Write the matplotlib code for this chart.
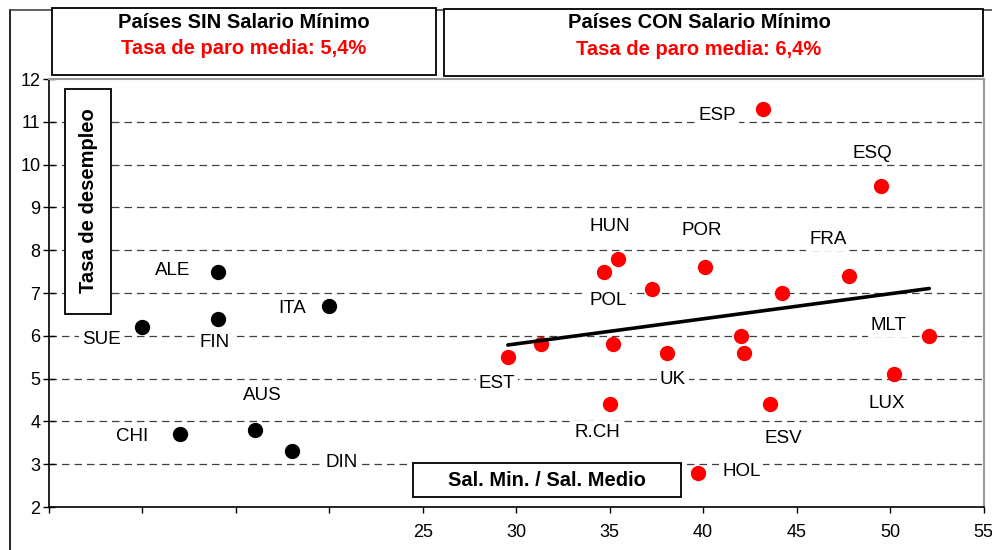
import matplotlib
matplotlib.use("Agg")
import matplotlib.pyplot as plt
from matplotlib.patches import Rectangle
import numpy as np

plt.rcParams['font.family'] = ['Liberation Sans', 'DejaVu Sans']

# countries without minimum wage (black)
sin_names = ['SUE', 'CHI', 'ALE', 'FIN', 'AUS', 'DIN', 'ITA']
sin_x = [10.0, 12.0, 14.05, 14.05, 16.0, 18.0, 20.0]
sin_y = [6.2, 3.7, 7.5, 6.4, 3.8, 3.3, 6.7]

# countries with minimum wage (red)
con_names = ['EST', '', 'R.CH', 'POL', '', 'HUN', '', 'UK', 'HOL', 'POR',
             '', '', 'ESP', 'ESV', '', 'FRA', 'ESQ', 'LUX', 'MLT']
con_x = [29.55, 31.35, 35.0, 34.7, 35.2, 35.45, 37.25, 38.05, 39.75, 40.1,
         42.05, 42.2, 43.2, 43.6, 44.2, 47.8, 49.5, 50.2, 52.1]
con_y = [5.5, 5.8, 4.4, 7.5, 5.8, 7.8, 7.1, 5.6, 2.8, 7.6,
         6.0, 5.6, 11.3, 4.4, 7.0, 7.4, 9.5, 5.1, 6.0]

x_ticks = [5, 10, 15, 20, 25, 30, 35, 40, 45, 50, 55]
x_ticklabels = ['', '', '', '', '25', '30', '35', '40', '45', '50', '55']
y_ticks = [2, 3, 4, 5, 6, 7, 8, 9, 10, 11, 12]

box_sin = ['Países SIN Salario Mínimo', 'Tasa de paro media: 5,4%']
box_con = ['Países CON Salario Mínimo', 'Tasa de paro media: 6,4%']

# label offsets in pixels (right, down) relative to the dot
sin_off = [(-41, 13), (-48, 3), (-45, 0), (-4, 25), (8, -33), (50, 12), (-37, 4)]
con_off = [(-11, 27), (0, 0), (-12, 29), (4, 30), (0, 0), (-8, -31), (0, 0),
           (6, 28), (43, 0), (-3, -36), (0, 0), (0, 0), (-46, 8), (13, 35),
           (0, 0), (-21, -35), (-8, -32), (-7, 30), (-41, -9)]

W, H = 992, 550
fig = plt.figure(figsize=(W / 100, H / 100), dpi=100)


def fx(x):
    return x / W


def fy(y):
    return 1 - y / H


ax = fig.add_axes([fx(49), fy(507), fx(983.5) - fx(49), fy(79) - fy(507)])
ax.set_xlim(5, 55)
ax.set_ylim(2, 12)

ax.set_axisbelow(True)
for yv in y_ticks[1:-1]:
    ax.axhline(yv, color='#404040', lw=0.9, dashes=(6, 4), zorder=0)

ax.plot(sin_x, sin_y, 'o', color='black', ms=10, zorder=3)
ax.plot(con_x, con_y, 'o', color='#FF0000', ms=10, zorder=3)

coef = np.polyfit(con_x, con_y, 1)
tx = np.array([min(con_x), max(con_x)])
ax.plot(tx, np.polyval(coef, tx), color='black', lw=2.6, solid_capstyle='round', zorder=4)

lab_font = ['Liberation Sans Narrow', 'Liberation Sans', 'DejaVu Sans']
for names, xs, ys, offs in [(sin_names, sin_x, sin_y, sin_off),
                            (con_names, con_x, con_y, con_off)]:
    for n, x, y, (dx, dy) in zip(names, xs, ys, offs):
        if not n:
            continue
        ax.annotate(n, (x, y), xytext=(dx, -dy + 1), textcoords='offset pixels',
                    ha='center', va='center', fontsize=13.5, family=lab_font,
                    bbox=dict(boxstyle='square,pad=0.15', fc='white', ec='none'),
                    zorder=2)

ax.set_xticks(x_ticks)
ax.set_xticklabels(x_ticklabels)
ax.set_yticks(y_ticks)
ax.tick_params(axis='y', direction='inout', length=8.6, width=1, labelsize=13, pad=2)
ax.tick_params(axis='x', direction='out', length=4.5, width=1, labelsize=13, pad=8)
for s in ['left', 'bottom']:
    ax.spines[s].set_color('black')
    ax.spines[s].set_linewidth(1.2)
for s in ['top', 'right']:
    ax.spines[s].set_color('#9a9a9a')
    ax.spines[s].set_linewidth(1.5)

# outer chart frame
fig.add_artist(plt.Line2D([fx(10), fx(10)], [fy(10), 0], color='black', lw=1.2))
fig.add_artist(plt.Line2D([fx(10), 1], [fy(9.5), fy(9.5)], color='#444444', lw=1.2))


def fig_box(x0, y0, x1, y1):
    fig.add_artist(Rectangle((fx(x0), fy(y1)), fx(x1) - fx(x0), fy(y0) - fy(y1),
                             transform=fig.transFigure, fc='white', ec='black', lw=1.3,
                             zorder=5))


fig_box(52, 7.5, 436, 75)
fig.text(fx(244), fy(22), box_sin[0], ha='center', va='center', fontsize=14.5,
         fontweight='bold', zorder=6)
fig.text(fx(244), fy(48.5), box_sin[1], ha='center', va='center', fontsize=14.5,
         fontweight='bold', color='#FF0000', zorder=6)

fig_box(444, 8.5, 983, 76)
fig.text(fx(699), fy(23), box_con[0], ha='center', va='center', fontsize=14.5,
         fontweight='bold', zorder=6)
fig.text(fx(699), fy(49.5), box_con[1], ha='center', va='center', fontsize=14.5,
         fontweight='bold', color='#FF0000', zorder=6)

# axis titles in boxes
fig_box(65, 88.5, 111, 313.5)
fig.text(fx(88.5), fy(201), 'Tasa de desempleo', rotation=90, ha='center', va='center',
         fontsize=14.5, fontweight='bold', zorder=6)
fig_box(413, 463, 681, 497)
fig.text(fx(547), fy(480.5), 'Sal. Min. / Sal. Medio', ha='center', va='center',
         fontsize=14.5, fontweight='bold', zorder=6)

fig.savefig('out.png', dpi=100)
